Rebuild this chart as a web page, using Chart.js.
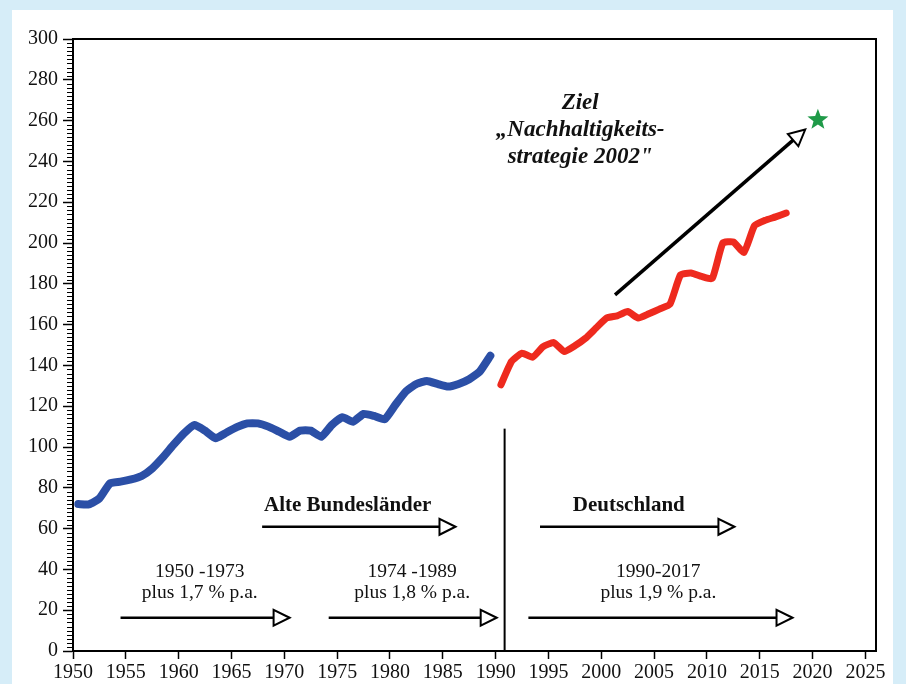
<!DOCTYPE html>
<html>
<head>
<meta charset="utf-8">
<script src="https://cdn.jsdelivr.net/npm/chart.js@4"></script>
<style>
  body { margin: 0; background: #d6edf8; }
  canvas { display: block; }
</style>
</head>
<body>
<canvas id="myChart" width="906" height="684"></canvas>
<script>
// Alte Bundeslaender 1950-1989, Deutschland 1990-2017 (index, plotted at mid-year)
let westYears = [];
for (let y = 1950; y <= 1989; ++y) westYears.push(y);
let westValues = [72, 71.9, 74.8, 82.2, 83, 84.1, 85.8, 89.5, 94.9, 101,
    106.7, 110.8, 108, 104.3, 107, 109.7, 111.6, 111.6, 110, 107.5,
    105, 108, 108, 105, 110.8, 114.6, 112.4, 116.2, 115.2, 113.6,
    120.6, 127.2, 130.9, 132.4, 130.9, 129.6, 130.9, 133.2, 137, 144.7];

let gerYears = [];
for (let y = 1990; y <= 2017; ++y) gerYears.push(y);
let gerValues = [130.5, 141.9, 146, 144, 149.2, 151.2, 146.8, 149.6, 153.3, 158.3,
    163.2, 164.3, 166.4, 163.2, 165.3, 167.6, 170, 184.4, 185.3, 183.6,
    182.6, 200, 200.5, 195.4, 208.5, 211.1, 212.8, 214.7];

// target of the Nachhaltigkeitsstrategie
let targetYear = 2020.5;
let targetValue = 260.4;

let periodLabels = ["1950 -1973", "1974 -1989", "1990-2017"];
let periodRates = ["plus 1,7 % p.a.", "plus 1,8 % p.a.", "plus 1,9 % p.a."];
let periodCenters = [1962.0, 1982.1, 2005.4];
let periodFrom = [1954.5, 1974.2, 1993.1];
let periodTo = [1970.5, 1990.1, 2018.1];

let regionLabels = ["Alte Bundesländer", "Deutschland"];
let regionCenters = [1976.0, 2002.6];
let regionFrom = [1967.9, 1994.2];
let regionTo = [1986.2, 2012.6];

let zielLines = ["Ziel", "„Nachhaltigkeits-", "strategie 2002\""];

let serif = '"Liberation Serif", "Times New Roman", serif';

function toPoints(years, values) {
    return years.map((y, i) => ({x: y + 0.5, y: values[i]}));
}

function arrow(ctx, x1, y1, x2, y2, width) {
    let a = Math.atan2(y2 - y1, x2 - x1);
    let len = 16, half = 8;
    let bx = x2 - len * Math.cos(a), by = y2 - len * Math.sin(a);
    ctx.save();
    ctx.strokeStyle = "#000";
    ctx.lineWidth = width;
    ctx.beginPath();
    ctx.moveTo(x1, y1);
    ctx.lineTo(bx, by);
    ctx.stroke();
    ctx.lineWidth = 2;
    ctx.lineJoin = "miter";
    ctx.beginPath();
    ctx.moveTo(x2, y2);
    ctx.lineTo(bx + half * Math.sin(a), by - half * Math.cos(a));
    ctx.lineTo(bx - half * Math.sin(a), by + half * Math.cos(a));
    ctx.closePath();
    ctx.fillStyle = "#fff";
    ctx.fill();
    ctx.stroke();
    ctx.restore();
}

function star(ctx, cx, cy, r) {
    ctx.save();
    ctx.beginPath();
    for (let i = 0; i < 10; ++i) {
        let rr = i % 2 == 0 ? r : r * 0.42;
        let a = -Math.PI / 2 + i * Math.PI / 5;
        ctx.lineTo(cx + rr * Math.cos(a), cy + rr * Math.sin(a));
    }
    ctx.closePath();
    ctx.fillStyle = "#1f9a48";
    ctx.fill();
    ctx.restore();
}

let background = {
    id: "background",
    beforeDraw(chart) {
        let ctx = chart.ctx;
        ctx.save();
        ctx.fillStyle = "#d6edf8";
        ctx.fillRect(0, 0, chart.width, chart.height);
        ctx.fillStyle = "#ffffff";
        ctx.fillRect(12, 10, 881, 674);
        ctx.restore();
    }
};

let extras = {
    id: "extras",
    afterDraw(chart) {
        let ctx = chart.ctx;
        let xs = chart.scales.x, ys = chart.scales.y;
        let area = chart.chartArea;
        let px = v => xs.getPixelForValue(v);
        let py = v => ys.getPixelForValue(v);

        ctx.save();
        // frame
        ctx.strokeStyle = "#000";
        ctx.lineWidth = 2;
        ctx.strokeRect(area.left, area.top, area.right - area.left, area.bottom - area.top);

        // minor ticks on y axis
        ctx.lineWidth = 1;
        for (let v = 2; v < 300; v += 2) {
            if (v % 20 == 0) continue;
            ctx.beginPath();
            ctx.moveTo(area.left - 6, Math.round(py(v)) + 0.5);
            ctx.lineTo(area.left, Math.round(py(v)) + 0.5);
            ctx.stroke();
        }

        // separator 1990/91
        ctx.lineWidth = 2;
        ctx.beginPath();
        ctx.moveTo(px(1990.85), py(0));
        ctx.lineTo(px(1990.85), py(109));
        ctx.stroke();

        ctx.fillStyle = "#111";
        ctx.textAlign = "center";
        ctx.textBaseline = "middle";

        // period arrows and growth rates
        ctx.font = "19.5px " + serif;
        for (let i = 0; i < periodLabels.length; ++i) {
            ctx.fillText(periodLabels[i], px(periodCenters[i]), py(38.8));
            ctx.fillText(periodRates[i], px(periodCenters[i]), py(28.3));
            arrow(ctx, px(periodFrom[i]), py(16.3), px(periodTo[i]), py(16.3), 2.5);
        }

        // region arrows
        ctx.font = "bold 21px " + serif;
        for (let i = 0; i < regionLabels.length; ++i) {
            ctx.fillText(regionLabels[i], px(regionCenters[i]), py(71.5));
            arrow(ctx, px(regionFrom[i]), py(60.9), px(regionTo[i]), py(60.9), 2.5);
        }

        // target annotation
        ctx.font = "italic bold 23px " + serif;
        let zielY = [268.8, 255.6, 242.3];
        for (let i = 0; i < zielLines.length; ++i) {
            ctx.fillText(zielLines[i], px(1998.0), py(zielY[i]));
        }
        arrow(ctx, px(2001.3), py(174.6), px(2019.3), py(255.6), 3.5);
        star(ctx, px(targetYear), py(targetValue), 11);
        ctx.restore();
    }
};

let tickFont = {family: serif, size: 20};

new Chart("myChart", {
    type: "line",
    data: {
        datasets: [{
            data: toPoints(westYears, westValues),
            borderColor: "#2b4fa6",
            borderWidth: 8,
            pointRadius: 0,
            tension: 0.15,
            borderCapStyle: "round",
            borderJoinStyle: "round"
        }, {
            data: toPoints(gerYears, gerValues),
            borderColor: "#ee2a1e",
            borderWidth: 7,
            pointRadius: 0,
            tension: 0.15,
            borderCapStyle: "round",
            borderJoinStyle: "round"
        }]
    },
    options: {
        responsive: false,
        animation: false,
        layout: {padding: {top: 39, right: 30}},
        plugins: {
            legend: {display: false},
            tooltip: {enabled: false}
        },
        scales: {
            x: {
                type: "linear",
                min: 1950,
                max: 2026,
                afterFit: s => { s.height = 33; },
                ticks: {
                    stepSize: 5,
                    includeBounds: false,
                    maxRotation: 0,
                    autoSkip: false,
                    padding: 2,
                    font: tickFont,
                    color: "#111",
                    callback: v => String(v)
                },
                grid: {drawOnChartArea: false, tickLength: 8, tickColor: "#000", tickWidth: 1.5},
                border: {color: "#000", width: 2}
            },
            y: {
                min: 0,
                max: 300,
                afterFit: s => { s.width = 73; },
                ticks: {
                    stepSize: 20,
                    padding: 5,
                    font: tickFont,
                    color: "#111",
                    callback: v => String(v)
                },
                grid: {drawOnChartArea: false, tickLength: 10, tickColor: "#000", tickWidth: 1.5},
                border: {color: "#000", width: 2}
            }
        }
    },
    plugins: [background, extras]
});
</script>
</body>
</html>
